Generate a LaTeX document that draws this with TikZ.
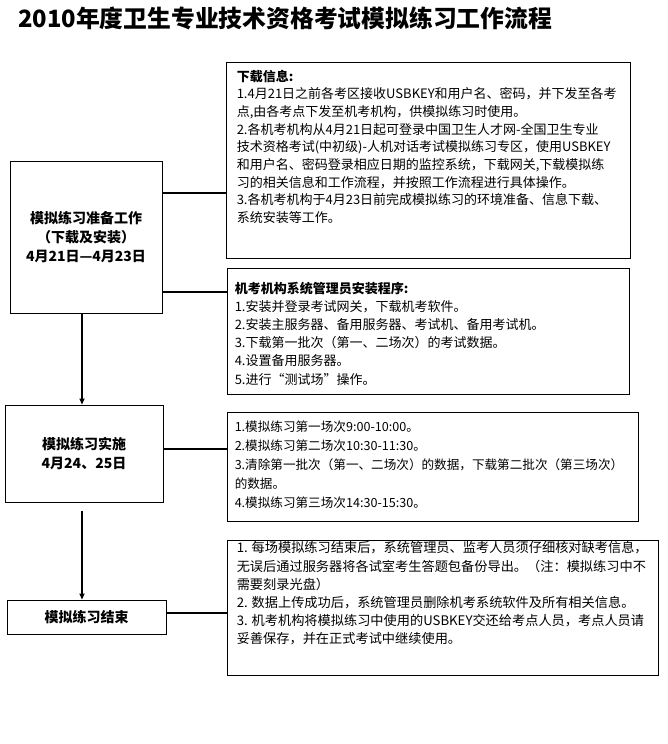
\documentclass[tikz,border=0pt]{standalone}
\usepackage{fontspec}
\setmainfont{Noto Sans CJK SC}
\usepackage{tikz}
\usetikzlibrary{arrows.meta, positioning}

\begin{document}
\begin{tikzpicture}[
        x=1pt, y=-1pt,
        >={Triangle[length=6pt, width=5pt]},
        stage/.style={draw, line width=0.9pt, inner sep=0pt, align=center, font=\bfseries\fontsize{14}{19}\selectfont},
        panel/.style={draw, line width=0.9pt, inner sep=0pt},
        note/.style={anchor=north west, inner sep=0pt, align=left},
        link/.style={line width=1.8pt},
        flow/.style={->, line width=1.8pt}
    ]
    \useasboundingbox (0,0) rectangle (667,744);

    % Tytul
    \node[anchor=west, inner sep=0pt, font=\bfseries\fontsize{23.8}{26}\selectfont] (title) at (18,18) {2010年度卫生专业技术资格考试模拟练习工作流程};

    % Etapy (lewa kolumna)
    \node[stage, minimum width=152, minimum height=152] (prep) at (86,237) {模拟练习准备工作\\（下载及安装）\\4月21日—4月23日};
    \node[stage, minimum width=158, minimum height=97] (run) at (84,453.5) {模拟练习实施\\4月24、25日};
    \node[stage, minimum width=159, minimum height=34] (finish) at (86.5,617) {模拟练习结束};

    % Ramki z opisem (prawa kolumna)
    \node[panel, minimum width=404, minimum height=196] (dl) at (428,160) {};
    \node[panel, minimum width=402, minimum height=126] (inst) at (428,331) {};
    \node[panel, minimum width=411, minimum height=109] (sess) at (432.5,466.5) {};
    \node[panel, minimum width=431, minimum height=135] (wrap) at (442.5,607.5) {};

    \node[note, font=\fontsize{13}{17.7}\selectfont] (dltext) at ([xshift=11pt, yshift=-8pt]dl.north west) {\textbf{下载信息:}\\
        1.4月21日之前各考区接收USBKEY和用户名、密码，并下发至各考\\
        点,由各考点下发至机考机构，供模拟练习时使用。\\
        2.各机考机构从4月21日起可登录中国卫生人才网-全国卫生专业\\
        技术资格考试(中初级)-人机对话考试模拟练习专区，使用USBKEY\\
        和用户名、密码登录相应日期的监控系统，下载网关,下载模拟练\\
        习的相关信息和工作流程，并按照工作流程进行具体操作。\\
        3.各机考机构于4月23日前完成模拟练习的环境准备、信息下载、\\
        系统安装等工作。};
    \node[note, font=\fontsize{13}{18.2}\selectfont] (insttext) at ([xshift=8pt, yshift=-14pt]inst.north west) {\textbf{机考机构系统管理员安装程序:}\\
        1.安装并登录考试网关，下载机考软件。\\
        2.安装主服务器、备用服务器、考试机、备用考试机。\\
        3.下载第一批次（第一、二场次）的考试数据。\\
        4.设置备用服务器。\\
        5.进行“测试场”操作。};
    \node[note, font=\fontsize{12.6}{19}\selectfont] (sesstext) at ([xshift=8pt, yshift=-9pt]sess.north west) {1.模拟练习第一场次9:00-10:00。\\
        2.模拟练习第二场次10:30-11:30。\\
        3.清除第一批次（第一、二场次）的数据，下载第二批次（第三场次）\\
        的数据。\\
        4.模拟练习第三场次14:30-15:30。};
    \node[note, font=\fontsize{13.2}{18.2}\selectfont] (wraptext) at ([xshift=10pt, yshift=-2pt]wrap.north west) {1. 每场模拟练习结束后，系统管理员、监考人员须仔细核对缺考信息，\\
        无误后通过服务器将各试室考生答题包备份导出。（注：模拟练习中不\\
        需要刻录光盘）\\
        2. 数据上传成功后，系统管理员删除机考系统软件及所有相关信息。\\
        3. 机考机构将模拟练习中使用的USBKEY交还给考点人员，考点人员请\\
        妥善保存，并在正式考试中继续使用。};

    % Polaczenia poziome
    \coordinate (axis) at (82,0);
    \coordinate (l1) at (0,193);
    \coordinate (l2) at (0,292);
    \coordinate (l3) at (0,449);
    \coordinate (l4) at (0,613);
    \draw[link] (prep.east |- l1) -- (dl.west |- l1);
    \draw[link] (prep.east |- l2) -- (inst.west |- l2);
    \draw[link] (run.east |- l3) -- (sess.west |- l3);
    \draw[link] (finish.east |- l4) -- (wrap.west |- l4);

    % Strzalki w dol
    \draw[flow] (prep.south -| axis) -- (run.north -| axis);
    \draw[flow] ([yshift=-9pt]run.south -| axis) -- (finish.north -| axis);
\end{tikzpicture}
\end{document}
